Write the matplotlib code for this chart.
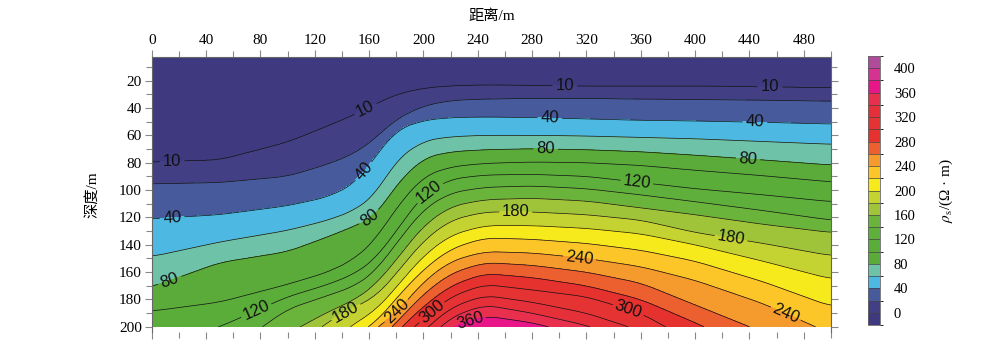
import numpy as np
import matplotlib
matplotlib.use("Agg")
import matplotlib.pyplot as plt
from matplotlib.colors import ListedColormap, BoundaryNorm
from matplotlib.cm import ScalarMappable

x_st = [0, 50, 100, 130, 150, 165, 180, 200, 220, 245, 280, 320, 360, 400, 450, 500]

# depth (m) of each contour level at those stations
d10 = [79.5, 78, 65, 53, 44.5, 37, 30, 25.5, 23.8, 23.2, 23.5, 24, 24, 24, 24.5, 25.3]
d20 = [95.5, 94.5, 90, 81, 73, 62, 48, 38.5, 34.5, 33.5, 33, 33, 33.5, 33.8, 34.3, 35]
d40 = [121, 118, 111.5, 105, 95, 75, 56, 49, 47, 46.6, 47, 48, 49, 49.5, 50.5, 51.7]
d60 = [148.7, 138, 129.5, 122, 114.5, 103, 78, 64, 61, 60, 60, 60.5, 61.5, 62.5, 64.5, 66.5]
d80 = [171, 153, 145, 134, 126, 119, 96, 76.5, 72, 70.5, 69.8, 70.5, 72, 74.5, 78, 81.7]
d100 = [188.5, 182, 169, 160, 150, 136, 113, 90, 83, 80.5, 79.5, 80, 82, 85.5, 89.5, 94]
d120 = [215, 200, 178, 169, 161, 150, 130, 103, 92, 89, 88.5, 90, 94.5, 99, 103.5, 108.5]
d140 = [240, 222, 187, 177, 170, 159, 139, 114, 102, 98, 97, 99, 103.5, 108.5, 115, 122]
d160 = [260, 245, 205, 189, 180, 169, 151, 126, 112, 107, 106, 108, 113, 118, 125, 131]
d180 = [280, 265, 220, 196, 185, 178, 161, 137, 122, 116, 116, 118, 122, 131, 139, 148]
d200 = [300, 285, 240, 212, 197, 188, 171, 148, 133, 126, 126, 128, 132, 140, 152, 165]
d220 = [320, 305, 260, 225, 206, 197, 179, 158, 143, 135, 136, 139, 144, 152, 167, 185]
d240 = [340, 325, 280, 240, 215, 201, 190, 167, 152, 145, 146, 150, 156, 166, 183, 205]
d260 = [360, 345, 300, 255, 228, 212, 197, 176, 161, 153, 155, 160, 168, 184, 204, 225]
d280 = [380, 365, 320, 270, 240, 222, 204, 185, 170, 161, 164, 170, 180, 197, 220, 245]
d300 = [400, 385, 340, 285, 255, 232, 212, 194, 178, 169, 173, 178, 190, 212, 240, 265]
d320 = [420, 405, 360, 300, 270, 245, 222, 203, 186, 177, 182, 190, 203, 230, 260, 285]
d340 = [440, 425, 380, 315, 285, 258, 232, 212, 193, 184, 190, 199, 212, 245, 275, 300]
d360 = [460, 445, 400, 330, 300, 270, 242, 220, 200, 192, 197, 207, 222, 260, 290, 320]
d380 = [480, 465, 420, 345, 315, 285, 255, 230, 210, 199, 206, 216, 235, 275, 305, 340]
d400 = [500, 485, 440, 360, 330, 300, 270, 245, 225, 212, 218, 228, 250, 290, 320, 360]

line_levels = [10, 20] + list(range(40, 401, 20))
label_levels = [10, 40, 80, 120, 180, 240, 300, 360]
cbar_bounds = list(range(-20, 421, 20))
cbar_ticks = list(range(0, 401, 40))
depth_ticks = list(range(20, 201, 20))
colors = ['#3F3A7F', '#433F84', '#475A9B', '#4DB9E3', '#6EC2A8', '#5AAB3A',
          '#5BAD3A', '#5EAF3B', '#6BB43C', '#9FC43A', '#C5D332', '#F6EA1C',
          '#FCC528', '#F59A2C', '#EC6030', '#E5322E', '#E53232', '#E5303A',
          '#E8304E', '#E9168A', '#D43391', '#B04A9A']

# label anchor points (x m, depth m)
label_at = [(15, 79.5), (157, 40), (304, 24), (455, 24.6),
            (15, 120), (157, 87), (293, 48), (444, 51),
            (14, 168), (161, 121), (290, 70.7), (439, 76.5),
            (76, 186), (203, 100), (357, 95),
            (141, 186), (268, 116), (426, 137),
            (178, 186), (315, 149), (466, 192),
            (205, 188), (352, 184), (233, 192)]

plt.rcParams['font.family'] = ['Liberation Serif', 'Noto Sans CJK SC']
plt.rcParams['mathtext.fontset'] = 'stix'

# build grid from the level depths
tab = np.array([d10, d20, d40, d60, d80, d100, d120, d140, d160, d180, d200,
                d220, d240, d260, d280, d300, d320, d340, d360, d380, d400], float)
xs = np.linspace(0, 500, 501)
ds = np.linspace(2.7, 200, 400)
fine = np.array([np.interp(xs, x_st, row) for row in tab])
k = np.ones(21) / 21
fine = np.array([np.convolve(np.pad(r, 10, mode='edge'), k, mode='valid') for r in fine])
fine = np.maximum.accumulate(fine + np.arange(len(tab))[:, None] * 1e-3, axis=0)
Z = np.empty((len(ds), len(xs)))
for j in range(len(xs)):
    dep = np.concatenate([[0], fine[:, j], [fine[-1, j] + 100]])
    val = np.concatenate([[0], line_levels, [500]])
    Z[:, j] = np.interp(ds, dep, val)

fig = plt.figure(figsize=(10, 3.42), dpi=100)
ax = fig.add_axes([0.1517, 1 - 332 / 342, 0.6793, 275 / 342])

# depth drawn as negative y so the axis runs downwards
ax.contourf(xs, -ds, Z, levels=[-20] + line_levels + [420], colors=colors)
plain = [lv for lv in line_levels if lv not in label_levels]
ax.contour(xs, -ds, Z, levels=plain, colors='#111111', linewidths=0.5)
cs = ax.contour(xs, -ds, Z, levels=label_levels, colors='#111111', linewidths=0.5)
lbl = ax.clabel(cs, manual=[(x, -d) for x, d in label_at], fmt='%d', inline=True,
                inline_spacing=4, fontsize=12)
for t in lbl:
    t.set_family('Liberation Sans')

ax.set_xlim(0, 500)
ax.set_ylim(-203.8, -2.7)
ax.set_xticks(range(0, 481, 40))
ax.set_xticks(range(20, 501, 40), minor=True)
ax.set_yticks([-d for d in depth_ticks])
ax.set_yticklabels([str(d) for d in depth_ticks])
ax.set_yticks([-d for d in range(10, 201, 20)], minor=True)
ax.tick_params(axis='x', which='both', top=True, bottom=True, labeltop=True,
               labelbottom=False, direction='out', colors='#888888', labelcolor='black',
               labelsize=11, pad=2)
ax.tick_params(axis='y', which='both', left=True, right=True, labelleft=True,
               labelright=False, direction='out', colors='#888888', labelcolor='black',
               labelsize=11, pad=2)
ax.tick_params(which='major', length=5, width=0.8)
ax.tick_params(which='minor', length=4, width=0.8)
for s in ['top', 'left', 'right']:
    ax.spines[s].set_color('#666666')
    ax.spines[s].set_linewidth(0.8)
ax.spines['bottom'].set_visible(False)

ax.set_xlabel('距离/m', fontsize=11, labelpad=10)
ax.xaxis.set_label_position('top')
ax.set_ylabel('深度/m', fontsize=11, labelpad=14)

cax = fig.add_axes([0.868, 1 - 325 / 342, 0.012, 269 / 342])
sm = ScalarMappable(norm=BoundaryNorm(cbar_bounds, len(colors)), cmap=ListedColormap(colors))
cb = fig.colorbar(sm, cax=cax, boundaries=cbar_bounds, ticks=cbar_ticks, drawedges=True)
cb.dividers.set_color('#444444')
cb.dividers.set_linewidth(0.5)
cb.outline.set_edgecolor('#666666')
cb.outline.set_linewidth(0.6)
cax.tick_params(length=0, labelsize=10.5, pad=10)
cb.set_label(r'$\rho_{\rm s}$/(Ω · m)', fontsize=11, labelpad=16)

fig.savefig('out.png', dpi=100)
